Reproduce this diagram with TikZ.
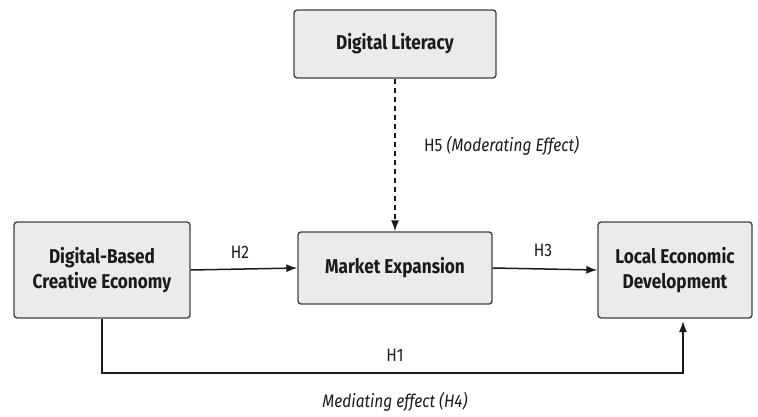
\documentclass[tikz,border=0pt]{standalone}
\usepackage{fontspec}
\setmainfont{Fira Sans}[FakeStretch=0.86]
\usetikzlibrary{arrows.meta}
\definecolor{boxfill}{HTML}{EBEBEB}
\definecolor{boxline}{HTML}{444444}
\definecolor{ink}{HTML}{1A1A1A}
\tikzset{
  box/.style={draw=boxline, fill=boxfill, line width=1.4pt, rounded corners=3pt,
    align=center, font=\fontsize{20}{25}\selectfont\bfseries, text=ink, inner sep=0pt},
  conn/.style={draw=ink, line width=1.5pt, -{Latex[length=11pt,width=8pt]}},
  lbl/.style={font=\fontsize{18}{21}\selectfont, text=ink, inner sep=0pt}
}
\begin{document}
\begin{tikzpicture}[x=1pt,y=-1pt]
\useasboundingbox (0,0) rectangle (758,416);
\node[box, minimum width=202pt, minimum height=68pt] (lit) at (395,44) {Digital Literacy};
\node[box, minimum width=194pt, minimum height=72pt] (mkt) at (395,268) {Market Expansion};
\node[box, minimum width=176pt, minimum height=96pt] (dbce) at (102,270) {Digital-Based\\Creative Economy};
\node[box, minimum width=154pt, minimum height=96pt] (led) at (675,270) {Local Economic\\Development};
\coordinate (bend) at (395,373);
\coordinate (ledin) at (683,318);
\draw[conn] (dbce.east) -- (mkt.west);
\draw[conn] (mkt.east) -- (led.west);
\draw[conn, dashed, dash pattern=on 5pt off 4pt] (lit.south) -- (mkt.north);
\draw[conn, shorten >=3pt] (dbce.south) |- (bend) -| (ledin);
\node[lbl] (h2) at (240,252) {H2};
\node[lbl] (h3) at (543,250) {H3};
\node[lbl] (h1) at (395,355) {H1};
\node[lbl, anchor=west] (h5) at (424,146) {H5 \textit{(Moderating Effect)}};
\node[lbl] (h4) at (395,402) {\textit{Mediating effect (H4)}};
\end{tikzpicture}
\end{document}
